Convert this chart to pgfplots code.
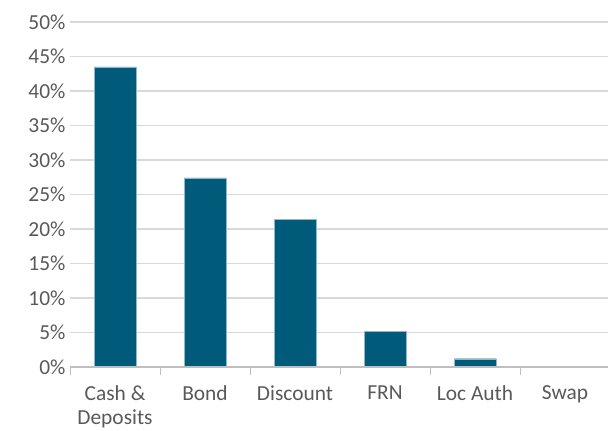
\documentclass[border=0pt]{standalone}
\usepackage{fontspec}
\setmainfont{Carlito}
\usepackage{pgfplots}
\pgfplotsset{compat=1.18}
\definecolor{barcol}{HTML}{005A7A}
\definecolor{baredge}{HTML}{8FB9CA}
\definecolor{gridcol}{HTML}{D9D9D9}
\definecolor{axcol}{HTML}{BFBFBF}
\definecolor{txtcol}{HTML}{595959}
\begin{document}
\begin{tikzpicture}[x=1bp,y=1bp]
\begin{axis}[
  at={(0,0)}, anchor=south west,
  scale only axis,
  width=540bp, height=345bp,
  xmin=-0.5, xmax=5.5,
  ymin=0, ymax=50,
  ytick={0,5,...,50},
  yticklabel={\pgfmathprintnumber{\tick}\%},
  /pgf/number format/assume math mode=true,
  xtick={0,1,2,3,4,5},
  xticklabels={{Cash \&\\Deposits},Bond,Discount,FRN,{Loc Auth},Swap},
  xticklabel style={align=center, text depth=0pt, yshift=-15bp},
  minor xtick={-0.5,0.5,1.5,2.5,3.5,4.5,5.5},
  major tick length=0pt,
  minor tick length=8bp,
  tick style={axcol, line width=1bp},
  minor tick style={axcol},
  tick align=outside,
  ymajorgrids,
  grid style={gridcol, line width=1.5bp},
  axis x line*=bottom,
  axis y line*=left,
  x axis line style={draw=none},
  y axis line style={draw=none},
  ticklabel style={font=\fontsize{21.5}{24.5}\selectfont, text=txtcol},
  yticklabel style={xshift=-1bp},
  clip=false,
]
\addplot[ybar, bar width=42bp, fill=barcol, draw=baredge, line width=0.4bp]
  coordinates {(0,43.5) (1,27.4) (2,21.4) (3,5.2) (4,1.2) (5,0)};
\draw[axcol, line width=1.2bp] (axis cs:-0.5,0) -- (axis cs:5.5,0);
\end{axis}
\pgfresetboundingbox
\path[use as bounding box] (-70,-63) rectangle (538,367);
\end{tikzpicture}
\end{document}
